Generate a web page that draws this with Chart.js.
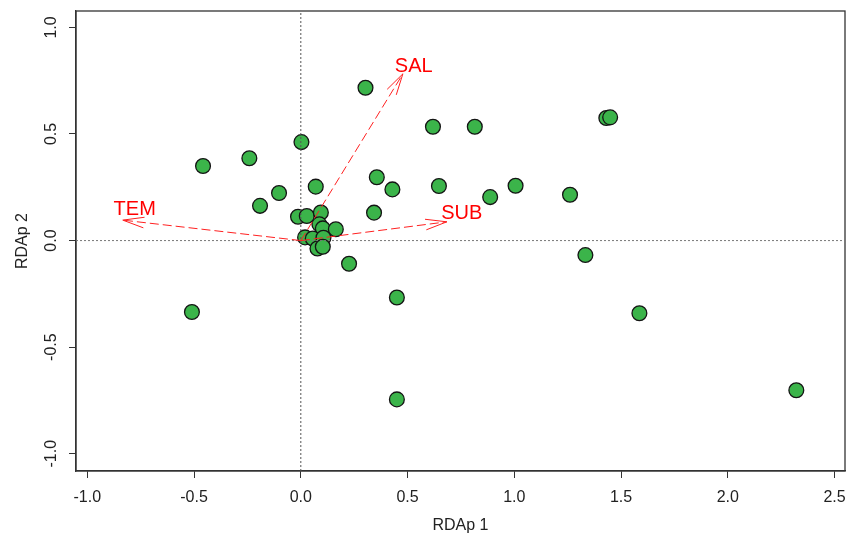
<!DOCTYPE html>
<html lang="en">
<head>
<meta charset="UTF-8">
<title>RDA plot</title>
<script src="https://cdn.jsdelivr.net/npm/chart.js@4.4.1/dist/chart.umd.min.js"></script>
<style>
    body { margin: 0; background: #fff; }
    #wrap { width: 861px; height: 535px; }
</style>
</head>
<body>
<div id="wrap"><canvas id="chart" width="861" height="535"></canvas></div>
<script>
// site scores (RDAp 1, RDAp 2)
const siteX = [0.303, 0.003, -0.458, -0.241, -0.102, -0.191, 0.070, 0.356, 0.429, 0.343,
    0.619, 0.815, 1.431, 1.449, 0.647, 0.887, 1.006, 1.261,
    0.226, 0.450, 1.333, -0.510, 1.586, 0.450, 2.321,
    -0.013, 0.028, 0.094, 0.087, 0.103, 0.164, 0.020, 0.056, 0.106, 0.078, 0.103];
const siteY = [0.717, 0.462, 0.350, 0.386, 0.223, 0.163, 0.253, 0.297, 0.240, 0.131,
    0.534, 0.534, 0.575, 0.578, 0.256, 0.204, 0.257, 0.215,
    -0.109, -0.267, -0.068, -0.335, -0.341, -0.745, -0.702,
    0.112, 0.115, 0.132, 0.076, 0.057, 0.053, 0.015, 0.010, 0.013, -0.037, -0.029];

// environmental arrows
const envNames = ['SAL', 'TEM', 'SUB'];
const envX = [0.478, -0.834, 0.684];
const envY = [0.782, 0.096, 0.088];
const envLabelX = [0.529, -0.778, 0.754];
const envLabelY = [0.815, 0.148, 0.129];

const xTicks = [-1.0, -0.5, 0.0, 0.5, 1.0, 1.5, 2.0, 2.5];
const yTicks = [-1.0, -0.5, 0.0, 0.5, 1.0];
const xMin = -1.053, xMax = 2.549;
const yMin = -1.081, yMax = 1.077;

const FONT = '"Liberation Sans", Arial, Helvetica, sans-serif';

const datasets = [];
datasets.push({
    data: [{x: xMin, y: 0}, {x: xMax, y: 0}],
    showLine: true, pointRadius: 0, borderColor: '#777', borderWidth: 1,
    borderDash: [2, 2], order: 1
});
datasets.push({
    data: [{x: 0, y: yMin}, {x: 0, y: yMax}],
    showLine: true, pointRadius: 0, borderColor: '#555', borderWidth: 1,
    borderDash: [2, 2], order: 1
});
envNames.forEach((n, i) => {
    datasets.push({
        label: n,
        data: [{x: 0, y: 0}, {x: envX[i], y: envY[i]}],
        showLine: true, pointRadius: 0, borderColor: '#ff2020', borderWidth: 1,
        borderDash: [9, 4], order: 0
    });
});
datasets.push({
    label: 'sites',
    data: siteX.map((x, i) => ({x: x, y: siteY[i]})),
    pointRadius: 7.4, pointBackgroundColor: '#3bb44a',
    pointBorderColor: '#141414', pointBorderWidth: 1.3, order: 2
});

// box, y tick labels, arrow heads and env labels
const extras = {
    id: 'extras',
    beforeDatasetsDraw(chart) {
        const {ctx, chartArea: a} = chart;
        ctx.save();
        ctx.strokeStyle = '#333';
        ctx.lineWidth = 1.3;
        ctx.strokeRect(a.left, a.top, a.right - a.left, a.bottom - a.top);
        ctx.restore();
    },
    afterDatasetsDraw(chart) {
        const {ctx, scales: {x, y}} = chart;
        ctx.save();
        ctx.fillStyle = '#222';
        ctx.font = '16px ' + FONT;
        ctx.textAlign = 'center';
        ctx.textBaseline = 'middle';
        yTicks.forEach(v => {
            ctx.save();
            ctx.translate(52, y.getPixelForValue(v));
            ctx.rotate(-Math.PI / 2);
            ctx.fillText(v.toFixed(1), 0, 0);
            ctx.restore();
        });
        const ox = x.getPixelForValue(0), oy = y.getPixelForValue(0);
        ctx.strokeStyle = '#ff2020';
        ctx.lineWidth = 1;
        envNames.forEach((n, i) => {
            const tx = x.getPixelForValue(envX[i]), ty = y.getPixelForValue(envY[i]);
            const ang = Math.atan2(oy - ty, ox - tx);
            const len = 22, spread = 14 * Math.PI / 180;
            ctx.beginPath();
            ctx.moveTo(tx + len * Math.cos(ang + spread), ty + len * Math.sin(ang + spread));
            ctx.lineTo(tx, ty);
            ctx.lineTo(tx + len * Math.cos(ang - spread), ty + len * Math.sin(ang - spread));
            ctx.stroke();
        });
        ctx.fillStyle = '#ff0000';
        ctx.font = '20px ' + FONT;
        envNames.forEach((n, i) => {
            ctx.fillText(n, x.getPixelForValue(envLabelX[i]), y.getPixelForValue(envLabelY[i]));
        });
        ctx.restore();
    }
};

new Chart(document.getElementById('chart'), {
    type: 'scatter',
    data: {datasets: datasets},
    options: {
        responsive: false,
        animation: false,
        layout: {padding: {top: 11, right: 16, left: 0, bottom: 0}},
        plugins: {legend: {display: false}, tooltip: {enabled: false}},
        scales: {
            x: {
                type: 'linear', min: xMin, max: xMax,
                afterBuildTicks: s => { s.ticks = xTicks.map(v => ({value: v})); },
                afterFit: s => { s.height = 64; s.paddingLeft = 0; s.paddingRight = 0; },
                grid: {drawOnChartArea: false, drawTicks: true, tickLength: 7, tickColor: '#333', tickWidth: 1},
                border: {display: true, color: '#333', width: 1.3},
                ticks: {color: '#222', font: {family: FONT, size: 16}, padding: 10,
                    maxRotation: 0, autoSkip: false, callback: v => v.toFixed(1)},
                title: {display: true, text: 'RDAp 1', color: '#222', font: {family: FONT, size: 16},
                    padding: {top: 0, bottom: 0}}
            },
            y: {
                type: 'linear', min: yMin, max: yMax,
                afterBuildTicks: s => { s.ticks = yTicks.map(v => ({value: v})); },
                afterFit: s => { s.width = 76; s.paddingTop = 0; s.paddingBottom = 0; },
                grid: {drawOnChartArea: false, drawTicks: true, tickLength: 7, tickColor: '#333', tickWidth: 1},
                border: {display: true, color: '#333', width: 1.3},
                ticks: {display: false},
                title: {display: true, text: 'RDAp 2', color: '#222', font: {family: FONT, size: 16},
                    padding: {top: 13, bottom: 0}}
            }
        }
    },
    plugins: [extras]
});
</script>
</body>
</html>
